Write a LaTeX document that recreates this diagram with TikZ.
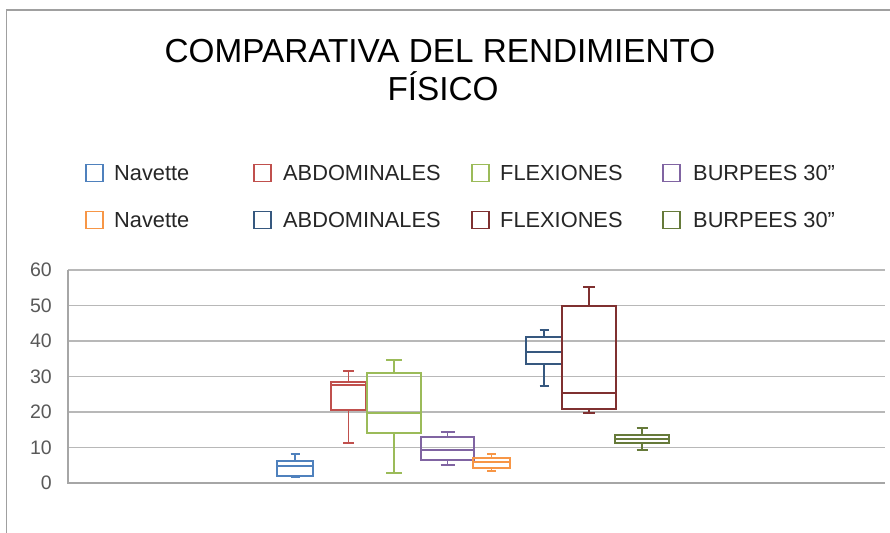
\documentclass[tikz,border=0pt]{standalone}
\usepackage{fontspec}
\setmainfont{Liberation Sans}
\definecolor{cBlue}{HTML}{4F81BD}
\definecolor{cRed}{HTML}{C0504D}
\definecolor{cGreen}{HTML}{9BBB59}
\definecolor{cPurple}{HTML}{8064A2}
\definecolor{cOrange}{HTML}{F79646}
\definecolor{cDBlue}{HTML}{36587F}
\definecolor{cDRed}{HTML}{7F3030}
\definecolor{cOlive}{HTML}{667A3A}
\definecolor{gridc}{HTML}{B8B8B8}
\definecolor{axisc}{HTML}{A6A6A6}
\definecolor{framec}{HTML}{A0A0A0}
\definecolor{labc}{HTML}{595959}
\definecolor{legc}{HTML}{262626}
\newcommand\bwplot[9]{%
  \draw[bxline,#1] (#2,#6) rectangle (#3,#8);
  \draw[bxline,#1] (#2,#7) -- (#3,#7);
  \pgfmathsetmacro\bwcx{(#2+#3)/2}
  \draw[bxline,#1] (\bwcx,#6) -- (\bwcx,#5) (\bwcx-#4,#5) -- (\bwcx+#4,#5);
  \draw[bxline,#1] (\bwcx,#8) -- (\bwcx,#9) (\bwcx-#4,#9) -- (\bwcx+#4,#9);
}
\tikzset{
  bxline/.style={line width=1.8pt},
  gridline/.style={draw=gridc,line width=1.6pt},
  axisline/.style={draw=axisc,line width=2pt},
  ylab/.style={anchor=east,text=labc,font=\fontsize{19.5}{22}\selectfont,inner sep=0pt},
  legtxt/.style={anchor=west,text=legc,font=\fontsize{21.8}{24}\selectfont,inner sep=0pt},
  legsq/.style={draw=#1,line width=1.5pt,minimum size=17pt,inner sep=0pt,fill=white},
  titletxt/.style={anchor=base,font=\fontsize{33.3}{40}\selectfont,inner sep=0pt},
}
\begin{document}
\begin{tikzpicture}[x=1pt,y=-1pt]
\useasboundingbox (0,0) rectangle (890,532);
\fill[white] (0,0) rectangle (890,532);
% frame
\draw[framec,line width=1.3pt] (6.5,540) -- (6.5,10) -- (895,10);
% title
\node[titletxt] (t1) at (440,63) {COMPARATIVA DEL RENDIMIENTO};
\node[titletxt] (t2) at (443,100) {FÍSICO};
% legend
\node[legsq=cBlue]   (l1) at (94.5,173) {};
\node[legtxt] (lt1) at (114,173) {Navette};
\node[legsq=cRed]    (l2) at (262.5,173) {};
\node[legtxt] (lt2) at (283,173) {ABDOMINALES};
\node[legsq=cGreen]  (l3) at (480.5,173) {};
\node[legtxt] (lt3) at (500,173) {FLEXIONES};
\node[legsq=cPurple] (l4) at (671.5,173) {};
\node[legtxt] (lt4) at (693,173) {BURPEES 30”};
\node[legsq=cOrange] (l5) at (94.5,220) {};
\node[legtxt] (lt5) at (114,220) {Navette};
\node[legsq=cDBlue]  (l6) at (262.5,220) {};
\node[legtxt] (lt6) at (283,220) {ABDOMINALES};
\node[legsq=cDRed]   (l7) at (480.5,220) {};
\node[legtxt] (lt7) at (500,220) {FLEXIONES};
\node[legsq=cOlive]  (l8) at (671.5,220) {};
\node[legtxt] (lt8) at (693,220) {BURPEES 30”};
% grid
\foreach \v in {10,20,30,40,50,60}{
  \draw[gridline] (68,{483-3.55*\v}) -- (885,{483-3.55*\v});
}
\foreach \v in {0,10,20,30,40,50,60}{
  \node[ylab] (y\v) at (52,{483-3.55*\v}) {\v};
}
\draw[axisline] (68,270) -- (68,483) -- (885,483);
% box plots
\bwplot{cBlue}{277}{313}{4.5}{454}{461}{466}{476}{477}
\bwplot{cRed}{331}{366}{5.5}{371}{382}{385}{410}{443}
\bwplot{cGreen}{367}{421}{8}{360}{373}{413}{433}{473}
\bwplot{cPurple}{421}{474}{7}{432}{437}{450}{460}{465}
\bwplot{cOrange}{473}{510}{4.5}{454}{458}{462}{468}{471}
\bwplot{cDBlue}{526}{562}{4.5}{330}{337}{352}{364}{386}
\bwplot{cDRed}{562}{616}{6}{287}{306}{393}{409}{413}
\bwplot{cOlive}{615}{669}{5.5}{428}{435}{439}{443}{450}
\end{tikzpicture}
\end{document}
